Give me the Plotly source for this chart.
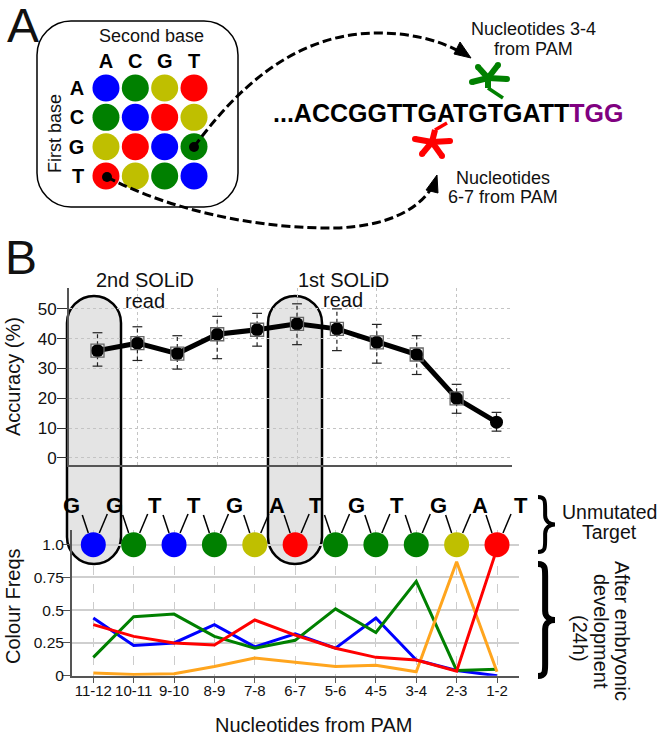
import plotly.graph_objects as go

W, H = 658, 738
FONT = "Liberation Sans"
NARROW = "Liberation Sans Narrow, Liberation Sans"

# ---------- data ----------
positions = ["11-12", "10-11", "9-10", "8-9", "7-8", "6-7", "5-6", "4-5", "3-4", "2-3", "1-2"]
accuracy = [36, 38.5, 35, 41.5, 43, 45, 43.3, 38.8, 34.7, 20, 12]
acc_upper = [42, 44, 41, 47.5, 48.5, 51.7, 50, 44.8, 41, 24.7, 15.3]
acc_lower = [30.8, 32.7, 29.8, 33.3, 37.5, 38, 36, 31.8, 28, 15, 9]

freq_blue = [0.44, 0.23, 0.25, 0.39, 0.22, 0.32, 0.21, 0.44, 0.12, 0.04, 0.0]
freq_green = [0.14, 0.45, 0.47, 0.30, 0.21, 0.27, 0.51, 0.33, 0.72, 0.04, 0.05]
freq_red = [0.39, 0.30, 0.25, 0.235, 0.425, 0.31, 0.21, 0.14, 0.12, 0.035, 0.97]
freq_orange = [0.02, 0.01, 0.015, 0.07, 0.135, 0.10, 0.07, 0.08, 0.03, 0.87, 0.03]

target_color_names = ["blue", "green", "blue", "green", "yellow", "red",
                      "green", "green", "green", "yellow", "red"]
target_letters = ["G", "G", "T", "T", "G", "A", "T", "G", "T", "G", "A", "T"]

bases = ["A", "C", "G", "T"]
matrix_names = [["blue", "green", "yellow", "red"],
                ["green", "blue", "red", "yellow"],
                ["yellow", "red", "blue", "green"],
                ["red", "yellow", "green", "blue"]]

palette = {"blue": "#0000ff", "green": "#008000", "yellow": "#bfbf00",
           "red": "#ff0000", "orange": "#ffa51e"}
colour_ticks = [0, 0.25, 0.5, 0.75, 1.0]
colour_ticktext = ["0", "0.25", "0.5", "0.75", "1.0"]
acc_ticks = [0, 10, 20, 30, 40, 50]


# ---------- pixel helpers for the schematic decoration ----------
def X(p):
    return p / W


def Y(p):
    return 1 - p / H


def path(*cmds):
    out = []
    for c in cmds:
        letter, pts = c[0], c[1:]
        out.append(letter + " " + " ".join(f"{X(a):.5f},{Y(b):.5f}" for a, b in pts))
    return " ".join(out)


K = 0.5523


def round_box(x0, y0, x1, y1, r):
    k = r * (1 - K)
    return path(("M", (x0 + r, y0)), ("L", (x1 - r, y0)),
                ("C", (x1 - k, y0), (x1, y0 + k), (x1, y0 + r)), ("L", (x1, y1 - r)),
                ("C", (x1, y1 - k), (x1 - k, y1), (x1 - r, y1)), ("L", (x0 + r, y1)),
                ("C", (x0 + k, y1), (x0, y1 - k), (x0, y1 - r)), ("L", (x0, y0 + r)),
                ("C", (x0, y0 + k), (x0 + k, y0), (x0 + r, y0))) + " Z"


def note(x, y, text, size=17, angle=0, bold=False, family=FONT, color="#111"):
    return dict(x=X(x), y=Y(y), xref="paper", yref="paper", text=text, showarrow=False,
                xanchor="center", yanchor="middle", textangle=angle,
                font=dict(family=family, size=size, color=color,
                          weight="bold" if bold else "normal"))


def blob(cx, cy, r, col):
    return dict(type="circle", xref="paper", yref="paper", fillcolor=col,
                x0=X(cx - r), x1=X(cx + r), y0=Y(cy + r), y1=Y(cy - r),
                line=dict(color=col, width=0))


shapes, notes = [], []

# capsules behind the charts
for cx0, cx1 in [(67, 121), (268, 322)]:
    shapes.append(dict(type="path", xref="paper", yref="paper", layer="below",
                       path=round_box(cx0, 296, cx1, 564, 27),
                       fillcolor="#e4e4e4", line=dict(color="#000", width=2.5)))

# panel A box
shapes.append(dict(type="path", xref="paper", yref="paper", layer="below",
                   path=round_box(37, 21, 238, 207, 34),
                   fillcolor="rgba(0,0,0,0)", line=dict(color="#000", width=1.5)))

# dashed curves with arrow heads
shapes.append(dict(type="path", xref="paper", yref="paper",
                   path=path(("M", (194, 147)), ("C", (250, 70), (310, 33), (378, 33)),
                             ("C", (410, 33), (440, 40), (462, 53))),
                   line=dict(color="#000", width=3, dash="9px,4px")))
shapes.append(dict(type="path", xref="paper", yref="paper",
                   path=path(("M", (107, 177)), ("C", (180, 215), (270, 229), (336, 228)),
                             ("C", (385, 226), (415, 212), (431, 189))),
                   line=dict(color="#000", width=3, dash="9px,4px")))
for pts in [[(460, 42), (454, 54), (471, 58)], [(437, 175), (426, 190), (438, 193)]]:
    shapes.append(dict(type="path", xref="paper", yref="paper", fillcolor="#000",
                       path=path(("M", pts[0]), ("L", pts[1]), ("L", pts[2])) + " Z",
                       line=dict(color="#000", width=1)))
shapes.append(blob(194, 147, 5, "#000"))
shapes.append(blob(107, 177, 5, "#000"))

# cut-site stars
stars = [("#008000", [(498, 65), (478, 67), (507, 79), (472, 82)], (488, 78),
          [(488, 78), (488, 88), (503, 98)]),
         ("#ff0000", [(415, 139), (450, 141), (422, 154), (442, 156)], (432, 142),
          [(432, 142), (435, 130), (447, 123)])]
for col, arms, centre, stem in stars:
    for a in arms:
        shapes.append(dict(type="path", xref="paper", yref="paper",
                           path=path(("M", centre), ("L", a)),
                           line=dict(color=col, width=6)))
        shapes.append(blob(a[0], a[1], 3, col))
    shapes.append(dict(type="path", xref="paper", yref="paper",
                       path=path(("M", stem[0]), ("L", stem[1])),
                       line=dict(color=col, width=6)))
    shapes.append(dict(type="path", xref="paper", yref="paper",
                       path=path(("M", stem[1]), ("L", stem[2])),
                       line=dict(color=col, width=3.5)))

# connectors from the target letters to the colour dots
X0_B, STEP_B = 93.3, 40.37
for i in range(len(positions)):
    cx = X0_B + i * STEP_B
    shapes.append(dict(type="line", xref="paper", yref="paper", x0=X(cx - 11), y0=Y(515),
                       x1=X(cx - 5), y1=Y(533), line=dict(color="#000", width=1.5)))
    shapes.append(dict(type="line", xref="paper", yref="paper", x0=X(cx + 14), y0=Y(514),
                       x1=X(cx + 6), y1=Y(533), line=dict(color="#000", width=1.5)))
letter_px = [71, 114, 155, 194, 234, 277, 316, 356, 397, 438, 480, 521]
for lx, ch in zip(letter_px, target_letters):
    notes.append(note(lx, 505, ch, size=22, bold=True, color="#000"))


# curly braces
def brace(x, y0, y1, w, width):
    ym = (y0 + y1) / 2
    q = w * 0.42
    return dict(type="path", xref="paper", yref="paper",
                line=dict(color="#000", width=width),
                path=path(("M", (x, y0)), ("C", (x + q, y0), (x + q, y0 + 4), (x + q, y0 + 12)),
                          ("L", (x + q, ym - 9)), ("C", (x + q, ym - 3), (x + w * 0.7, ym), (x + w, ym)),
                          ("C", (x + w * 0.7, ym), (x + q, ym + 3), (x + q, ym + 9)),
                          ("L", (x + q, y1 - 12)), ("C", (x + q, y1 - 4), (x + q, y1), (x, y1))))


shapes.append(brace(538, 497, 552, 17, 4))
shapes.append(brace(538, 564, 676, 17, 6))

# texts
notes += [
    note(23, 26, "A", size=48), note(21, 257, "B", size=48),
    note(151, 36, "Second base", size=18),
    note(55, 134, "First base", size=18, angle=-90),
    note(533, 29, "Nucleotides 3-4", size=18), note(533, 49, "from PAM", size=18),
    note(503, 178, "Nucleotides", size=18), note(503, 197, "6-7 from PAM", size=18),
    note(448, 113, '...ACCGGTTGATGTGATT<span style="color:#800080">TGG</span>',
         size=25, bold=True, color="#000"),
    note(145, 280, "2nd SOLiD", size=20), note(145, 301, "read", size=20),
    note(343, 280, "1st SOLiD", size=20), note(343, 300, "read", size=20),
    note(13, 377, "Accuracy (%)", size=20, angle=-90),
    note(13, 606, "Colour Freqs", size=20, angle=-90),
    note(313, 725, "Nucleotides from PAM", size=20),
    note(609, 512, "Unmutated", size=19.5), note(609, 532, "Target", size=19.5),
    note(622, 631, "After embryonic", size=20, angle=90),
    note(601, 631, "development", size=20, angle=90),
    note(580, 638, "(24h)", size=20, angle=90),
]

fig = go.Figure()

# ---------- panel A colour-space matrix ----------
mx, my, mc = [], [], []
for r, row in enumerate(matrix_names):
    for c, name in enumerate(row):
        mx.append(bases[c])
        my.append(bases[r])
        mc.append(palette[name])
fig.add_trace(go.Scatter(x=mx, y=my, mode="markers", xaxis="x3", yaxis="y3", showlegend=False,
                         marker=dict(size=27, color=mc, line=dict(width=0))))

# ---------- accuracy panel ----------
err_x, err_y = [], []
for p, lo, up in zip(positions, acc_lower, acc_upper):
    err_x += [p, p, None]
    err_y += [lo, up, None]
fig.add_trace(go.Scatter(x=err_x, y=err_y, mode="lines", showlegend=False,
                         line=dict(color="#222", width=1.2, dash="4px,3px")))
fig.add_trace(go.Scatter(x=positions + positions, y=acc_lower + acc_upper, mode="markers",
                         showlegend=False,
                         marker=dict(symbol="line-ew", size=7, line=dict(color="#222", width=1.2))))
fig.add_trace(go.Scatter(x=positions, y=accuracy, mode="lines", showlegend=False,
                         line=dict(color="#000", width=5)))
fig.add_trace(go.Scatter(x=positions, y=accuracy, mode="markers", showlegend=False,
                         marker=dict(symbol="circle", size=13, color="#000")))
fig.add_trace(go.Scatter(x=positions[:-1], y=accuracy[:-1], mode="markers", showlegend=False,
                         marker=dict(symbol="square-open", size=13, color="#666",
                                     line=dict(color="#666", width=1.3))))

# ---------- colour frequency panel ----------
for vals, name in [(freq_blue, "blue"), (freq_green, "green"),
                   (freq_orange, "orange"), (freq_red, "red")]:
    fig.add_trace(go.Scatter(x=positions, y=vals, mode="lines", xaxis="x2", yaxis="y2",
                             showlegend=False, line=dict(color=palette[name], width=3)))
fig.add_trace(go.Scatter(x=positions, y=[1.0] * len(positions), mode="markers",
                         xaxis="x2", yaxis="y2", showlegend=False, cliponaxis=False,
                         marker=dict(size=25, color=[palette[n] for n in target_color_names],
                                     line=dict(width=0))))

ax_line = "#555"
fig.update_layout(
    width=W, height=H, margin=dict(l=0, r=0, t=0, b=0), autosize=False,
    paper_bgcolor="#fff", plot_bgcolor="rgba(0,0,0,0)",
    font=dict(family=FONT, color="#111"), shapes=shapes, annotations=notes,
    xaxis=dict(type="category", automargin=False, domain=[X(69), X(512)], anchor="y",
               categoryorder="array", categoryarray=positions,
               range=[(69 - 97.5) / 39.9, (512 - 97.5) / 39.9],
               tickmode="array", tickvals=positions[1::2], ticks="", showticklabels=False,
               showgrid=True, griddash="dot", gridcolor="#c4c4c4", gridwidth=1,
               showline=True, linecolor=ax_line, linewidth=2, zeroline=False),
    yaxis=dict(automargin=False, domain=[Y(465), Y(288)], anchor="x", range=[-2.35, 57],
               tickmode="array", tickvals=acc_ticks, ticks="outside", ticklen=10, tickcolor="#333",
               ticklabelstandoff=-3,
               tickfont=dict(size=17, family=FONT), showgrid=True, griddash="dot",
               gridcolor="#c4c4c4", gridwidth=1, showline=True, linecolor=ax_line, linewidth=2,
               zeroline=False),
    xaxis2=dict(type="category", automargin=False, domain=[X(72), X(519)], anchor="y2",
                categoryorder="array", categoryarray=positions,
                range=[(72 - X0_B) / STEP_B, (519 - X0_B) / STEP_B],
                tickmode="array", tickvals=positions, ticks="outside", ticklen=5, tickcolor="#555",
                ticklabelstandoff=-5,
                tickfont=dict(size=15, family=NARROW), showgrid=True, griddash="dash",
                gridcolor="#cccccc", gridwidth=1, showline=True, linecolor=ax_line, linewidth=2,
                zeroline=False),
    yaxis2=dict(automargin=False, domain=[Y(675.7), Y(530)], anchor="x2", range=[0, 1.112],
                tickmode="array", tickvals=colour_ticks, ticktext=colour_ticktext,
                ticks="outside", ticklen=8, tickcolor="#555", ticklabelstandoff=-5,
                tickfont=dict(size=15.5, family=NARROW), showgrid=True, gridcolor="#cfcfcf",
                gridwidth=2, showline=True, linecolor=ax_line, linewidth=2, zeroline=False),
    xaxis3=dict(type="category", automargin=False, domain=[X(91.3), X(208.7)], anchor="y3",
                side="top", categoryorder="array",
                categoryarray=bases, range=[-0.5, 3.5], ticks="", showgrid=False, showline=False,
                zeroline=False, tickfont=dict(size=20, family=FONT, color="#000", weight="bold")),
    yaxis3=dict(type="category", automargin=False, domain=[Y(190.7), Y(73.3)], anchor="x3",
                categoryorder="array", ticklabelstandoff=6,
                categoryarray=bases, range=[3.5, -0.5], ticks="", showgrid=False, showline=False,
                zeroline=False, tickfont=dict(size=20, family=FONT, color="#000", weight="bold")),
)

fig.write_html("out.html", config={"displayModeBar": False},
               post_script="document.body.style.margin='0';")
